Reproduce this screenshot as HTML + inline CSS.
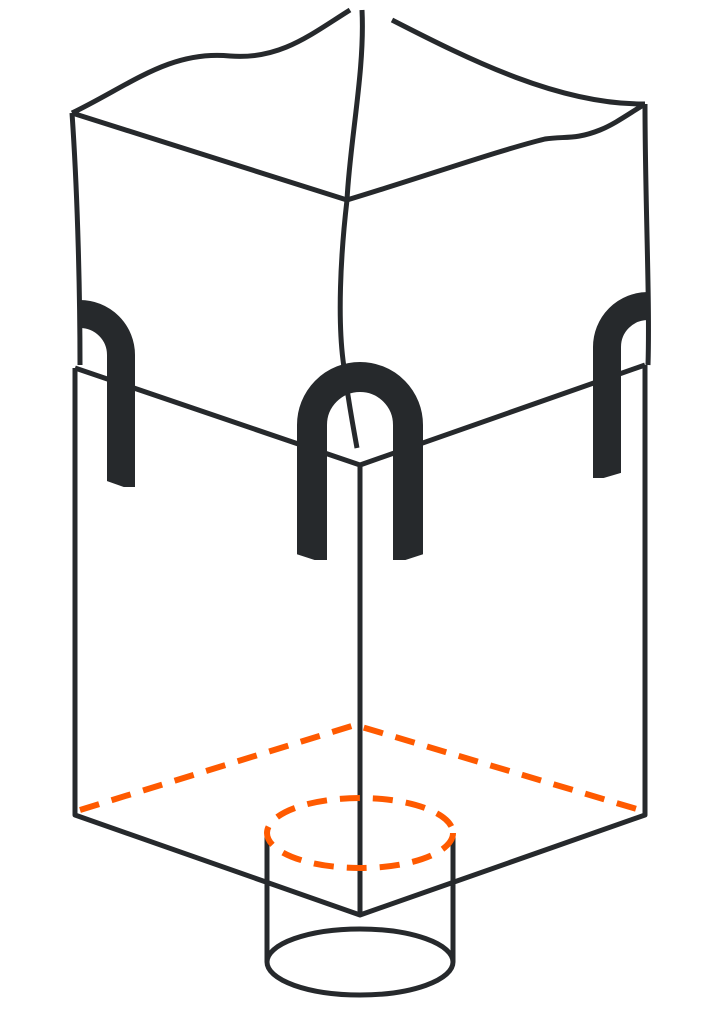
<!DOCTYPE html>
<html><head><meta charset="utf-8"><style>html,body{margin:0;padding:0;background:#fff}svg{display:block}</style></head>
<body>
<svg width="720" height="1024" viewBox="0 0 720 1024" xmlns="http://www.w3.org/2000/svg">
<g fill="none" stroke="#26292c" stroke-width="5" stroke-linejoin="round">
  <path d="M72,113 C130,85 170,50 230,56 C280,60 310,35 350,10"/>
  <path d="M392,20 C470,60 560,105 645,104"/>
  <path d="M362,10 C365,70 350,140 347,200 C340,260 338,320 343,360 C348,400 352,420 357,448"/>
  <path d="M72,113 L347,200"/>
  <path d="M347,200 C420,178 500,150 545,139 C565,136 575,140 600,130 C615,124 630,113 645,104"/>
  <path d="M72,113 C78,200 80,300 80,365"/>
  <path d="M645,104 C645,200 650,300 648,365"/>
  <path d="M75,368 L360,465 L645,365"/>
  <path d="M75,368 L75,815 L360,915 L645,815 L645,365"/>
  <path d="M360,465 L360,915"/>
  <path d="M267,835 L267,962 M453,835 L453,962"/>
  <ellipse cx="360" cy="962" rx="93" ry="33"/>
</g>
<g fill="none" stroke="#ff5a00" stroke-width="6" stroke-dasharray="20 13">
  <path d="M80,810 L355,725 L640,810"/>
  <ellipse cx="360" cy="833" rx="93" ry="35"/>
</g>
<g fill="none" stroke="#26292c" stroke-width="30">
  <path d="M312,560 L312,425 A48,48 0 0 1 408,425 L408,560"/>
</g>
<g fill="none" stroke="#26292c" stroke-width="28">
  <path d="M80,314 A41,41 0 0 1 121,355 L121,487"/>
  <path d="M648,306 A41,41 0 0 0 607,347 L607,478"/>
</g>
<g fill="#fff">
  <polygon points="290,552 330,565 330,580 290,580"/>
  <polygon points="390,565 430,552 430,580 390,580"/>
  <polygon points="104,480 138,492 138,505 104,505"/>
  <polygon points="590,482 624,472 624,500 590,500"/>
</g>
</svg>
</body></html>
